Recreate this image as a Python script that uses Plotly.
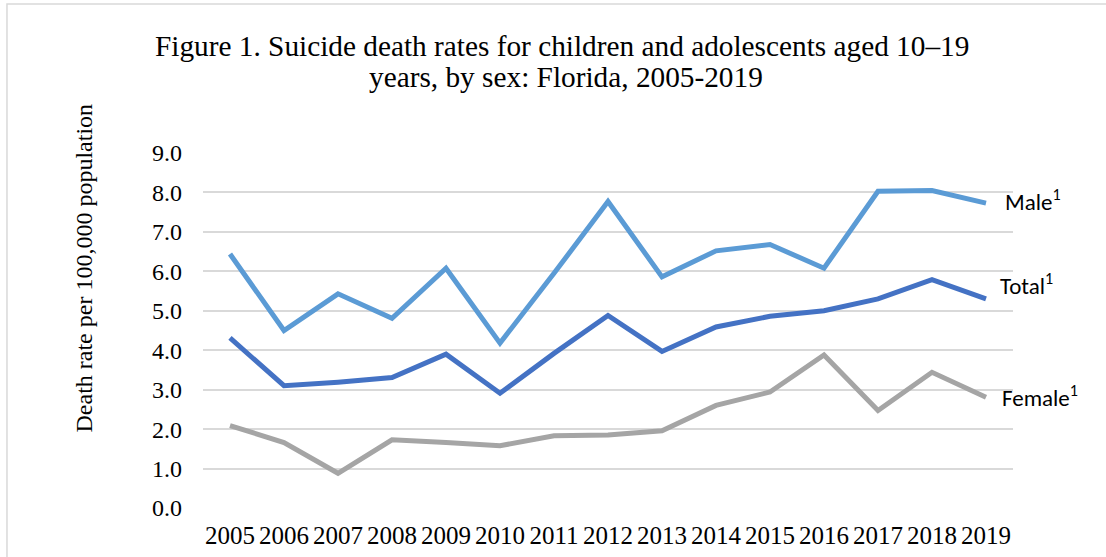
import plotly.graph_objects as go

years = [str(y) for y in range(2005, 2020)]
male = [6.44, 4.50, 5.43, 4.81, 6.08, 4.18, 5.95, 7.77, 5.86, 6.52, 6.68, 6.08, 8.03, 8.05, 7.73]
total = [4.31, 3.10, 3.19, 3.31, 3.90, 2.91, 3.92, 4.88, 3.97, 4.59, 4.86, 5.00, 5.30, 5.79, 5.30]
female = [2.09, 1.66, 0.88, 1.73, 1.66, 1.58, 1.83, 1.85, 1.96, 2.60, 2.94, 3.88, 2.47, 3.44, 2.81]
series_names = ["Male", "Total", "Female"]
colors = ["#5B9BD5", "#4472C4", "#A5A5A5"]
y_ticks = [0, 1, 2, 3, 4, 5, 6, 7, 8, 9]
title_lines = ["Figure 1. Suicide death rates for children and adolescents aged 10–19",
               "years, by sex: Florida, 2005-2019"]
y_title = "Death rate per 100,000 population"

serif = "Liberation Serif, Times New Roman, serif"
sans = "Carlito, Liberation Sans, Arial, sans-serif"

fig = go.Figure()
for name, vals, col in zip(series_names, [male, total, female], colors):
    fig.add_trace(go.Scatter(
        x=years, y=vals, mode="lines", name=name,
        line=dict(color=col, width=5),
        showlegend=False, hoverinfo="x+y",
    ))

# series labels at the end of each line (x given as category index of last year)
label_shifts = {"Male": (17, 3), "Total": (12, 14), "Female": (14, 1)}
last_idx = len(years) - 1
for name, vals in zip(series_names, [male, total, female]):
    xs, ys = label_shifts[name]
    fig.add_annotation(
        x=last_idx, y=vals[-1], xref="x", yref="y",
        text=f"{name}<sup>1</sup>", showarrow=False,
        xanchor="left", yanchor="middle", xshift=xs, yshift=ys,
        font=dict(family=sans, size=23, color="#000000"),
    )

# title (two lines placed separately to control spacing)
for line, (xs, ys) in zip(title_lines, [(-46, 107), (-42, 76)]):
    fig.add_annotation(
        x=0.5, y=1, xref="paper", yref="paper", text=line,
        showarrow=False, xanchor="center", yanchor="middle", xshift=xs, yshift=ys,
        font=dict(family=serif, size=29.3, color="#000000"),
    )

# y axis title
fig.add_annotation(
    x=0, y=0.5, xref="paper", yref="paper",
    text=y_title, textangle=-90,
    showarrow=False, xanchor="center", yanchor="middle", xshift=-120, yshift=62,
    font=dict(family=serif, size=24, color="#000000"),
)

# outer chart border
fig.add_shape(type="rect", xref="paper", yref="paper",
              x0=-0.242, x1=1.2, y0=-0.3, y1=1.42,
              line=dict(color="#D9D9D9", width=1.5), fillcolor="rgba(0,0,0,0)", layer="below")

fig.update_layout(
    width=1106, height=557,
    margin=dict(l=203, r=93, t=153, b=49, autoexpand=False),
    paper_bgcolor="#FFFFFF", plot_bgcolor="#FFFFFF",
    font=dict(family=serif, size=24, color="#000000"),
    xaxis=dict(type="category", range=[-0.5, 14.5], showgrid=False, zeroline=False,
               showline=False, ticks="", ticklabelstandoff=10, automargin=False,
               tickfont=dict(family=serif, size=25)),
    yaxis=dict(range=[0, 9], tickvals=y_ticks, tickformat=".1f", showgrid=True,
               gridcolor="#D9D9D9", gridwidth=1.5, zeroline=False, showline=False,
               ticks="", ticklabelstandoff=20, automargin=False,
               tickfont=dict(family=serif, size=24)),
)

fig.write_html("out.html", config={"displayModeBar": False},
               post_script="document.body.style.margin='0';")
